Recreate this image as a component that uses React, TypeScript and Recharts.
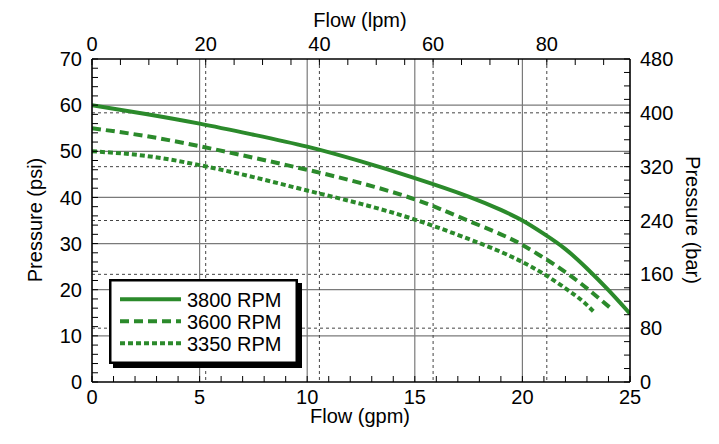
import React from 'react';
import { ComposedChart, Line, XAxis, YAxis, CartesianGrid, Legend } from 'recharts';

// Pump pressure vs. flow curves at three shaft speeds
const LPM_PER_GPM = 3.78541;
const FONT = '"Liberation Sans", Arial, sans-serif';
const GREEN = '#2B8A2B';

const flow3800 = [0, 2.5, 5, 7.5, 10, 12.5, 15, 17.5, 19, 20, 21, 22, 23, 24, 25];
const psi3800 = [60, 58.1, 56, 53.6, 51, 47.8, 44.2, 40.2, 37.3, 35, 32.1, 28.8, 24.6, 19.9, 14.8];

const flow3600 = [0, 2.5, 5, 7.5, 10, 12.5, 15, 17, 19, 20, 21, 22, 23, 24.05];
const psi3600 = [55, 53.3, 51.1, 48.6, 46, 43.1, 39.6, 35.9, 32, 29.7, 26.9, 23.8, 20.3, 16.2];

const flow3350 = [0, 2.5, 5, 7.5, 10, 12.5, 15, 17.5, 19, 20, 21, 22, 22.75, 23.3];
const psi3350 = [50, 49, 47, 44.4, 41.5, 38.6, 35.2, 31, 28.2, 26, 23.4, 20.3, 17.7, 15.3];

const seriesNames = ['3800 RPM', '3600 RPM', '3350 RPM'];
const seriesDash = ['', '9 5', '5 3'];

// Labelled (major) ticks for each axis
const gpmLabels = [0, 5, 10, 15, 20, 25];
const psiLabels = [0, 10, 20, 30, 40, 50, 60, 70];
const lpmLabels = [0, 20, 40, 60, 80];
const barLabels = [0, 80, 160, 240, 320, 400, 480];

// Grid lines
const gpmGrid = [5, 10, 15, 20];
const psiGrid = [10, 20, 30, 40, 50, 60];
const lpmGrid = [20, 40, 60, 80];
const barGrid = [80, 160, 240, 320, 400];

const steps = (from: number, to: number, step: number) => {
  const out: number[] = [];
  for (let v = from; v <= to + 1e-9; v += step) out.push(v);
  return out;
};

// Minor tick positions (labels only shown on majors)
const gpmTicks = steps(0, 25, 1);
const psiTicks = steps(0, 70, 2);
const lpmTicks = steps(0, 90, 5);
const barTicks = steps(0, 480, 20);

const toPoints = (flow: number[], psi: number[]) =>
  flow.map((gpm, i) => ({ gpm, lpm: gpm * LPM_PER_GPM, psi: psi[i] }));
const seriesData = [
  toPoints(flow3800, psi3800),
  toPoints(flow3600, psi3600),
  toPoints(flow3350, psi3350),
];

const labelIf = (labels: number[]) => (v: number) => (labels.includes(v) ? String(v) : '');

const tickStyle = { fill: '#000', fontSize: 20, fontFamily: FONT };
const axisLineStyle = { stroke: '#000', strokeWidth: 1.6 };
const tickLineStyle = { stroke: '#000', strokeWidth: 1 };

const LegendBox = () => (
  <svg width={200} height={100} style={{ display: 'block' }}>
    <rect x={6} y={6} width={189} height={85} fill="#000" />
    <rect x={3.25} y={3.25} width={186.5} height={82.5} fill="#fff" stroke="#000" strokeWidth={2.5} />
    {seriesNames.map((name, i) => {
      const cy = 22.3 + i * 22;
      return (
        <g key={name}>
          <line x1={13} x2={74} y1={cy} y2={cy} stroke={GREEN} strokeWidth={4} strokeDasharray={seriesDash[i] || undefined} />
          <text x={80} y={cy + 7.2} fontSize={20} fontFamily={FONT} fill="#000">
            {name}
          </text>
        </g>
      );
    })}
  </svg>
);

export default function App() {
  return (
    <ComposedChart width={703} height={428} data={seriesData[0]} margin={{ top: 0, right: 0, bottom: 0, left: 0 }}>
      <XAxis
        xAxisId="gpm"
        type="number"
        dataKey="gpm"
        orientation="bottom"
        domain={[0, 25]}
        ticks={gpmTicks}
        interval={0}
        allowDataOverflow
        height={54}
        tickSize={-6}
        tickMargin={14}
        tickFormatter={labelIf(gpmLabels)}
        tick={tickStyle}
        axisLine={axisLineStyle}
        tickLine={tickLineStyle}
      />
      <XAxis
        xAxisId="lpm"
        type="number"
        dataKey="lpm"
        orientation="top"
        domain={[0, 25 * LPM_PER_GPM]}
        ticks={lpmTicks}
        interval={0}
        allowDataOverflow
        height={51}
        tickSize={-6}
        tickMargin={14}
        tickFormatter={labelIf(lpmLabels)}
        tick={tickStyle}
        axisLine={axisLineStyle}
        tickLine={tickLineStyle}
      />
      <YAxis
        yAxisId="psi"
        type="number"
        orientation="left"
        domain={[0, 70]}
        ticks={psiTicks}
        interval={0}
        allowDataOverflow
        width={84}
        tickSize={-6}
        tickMargin={16}
        tickFormatter={labelIf(psiLabels)}
        tick={tickStyle}
        axisLine={axisLineStyle}
        tickLine={tickLineStyle}
      />
      <YAxis
        yAxisId="bar"
        type="number"
        orientation="right"
        domain={[0, 480]}
        ticks={barTicks}
        interval={0}
        allowDataOverflow
        width={81}
        tickSize={-6}
        tickMargin={16}
        tickFormatter={labelIf(barLabels)}
        tick={tickStyle}
        axisLine={axisLineStyle}
        tickLine={tickLineStyle}
      />
      <CartesianGrid
        xAxisId="gpm"
        yAxisId="psi"
        horizontalValues={psiGrid}
        verticalValues={gpmGrid}
        stroke="#7a7a7a"
        strokeWidth={1.2}
      />
      <CartesianGrid
        xAxisId="lpm"
        yAxisId="bar"
        horizontalValues={barGrid}
        verticalValues={lpmGrid}
        stroke="#444"
        strokeWidth={1}
        strokeDasharray="3 3"
      />
      {seriesData.map((data, i) => (
        <Line
          key={seriesNames[i]}
          xAxisId="gpm"
          yAxisId="psi"
          data={data}
          dataKey="psi"
          name={seriesNames[i]}
          type="natural"
          stroke={GREEN}
          strokeWidth={4}
          strokeDasharray={seriesDash[i] || undefined}
          dot={false}
          activeDot={false}
          isAnimationActive={false}
        />
      ))}
      <Legend
        layout="horizontal"
        align="center"
        verticalAlign="middle"
        content={() => <LegendBox />}
        wrapperStyle={{ left: 99, top: 269, bottom: 'auto', right: 'auto', width: 200, height: 100 }}
      />
      <text x={352} y={19} textAnchor="middle" fontSize={20} fontFamily={FONT} fill="#000">
        Flow (lpm)
      </text>
      <text x={352} y={415} textAnchor="middle" fontSize={20} fontFamily={FONT} fill="#000">
        Flow (gpm)
      </text>
      <text transform="translate(34,212) rotate(-90)" textAnchor="middle" fontSize={20} fontFamily={FONT} fill="#000">
        Pressure (psi)
      </text>
      <text transform="translate(678,212) rotate(90)" textAnchor="middle" fontSize={20} fontFamily={FONT} fill="#000">
        Pressure (bar)
      </text>
    </ComposedChart>
  );
}
